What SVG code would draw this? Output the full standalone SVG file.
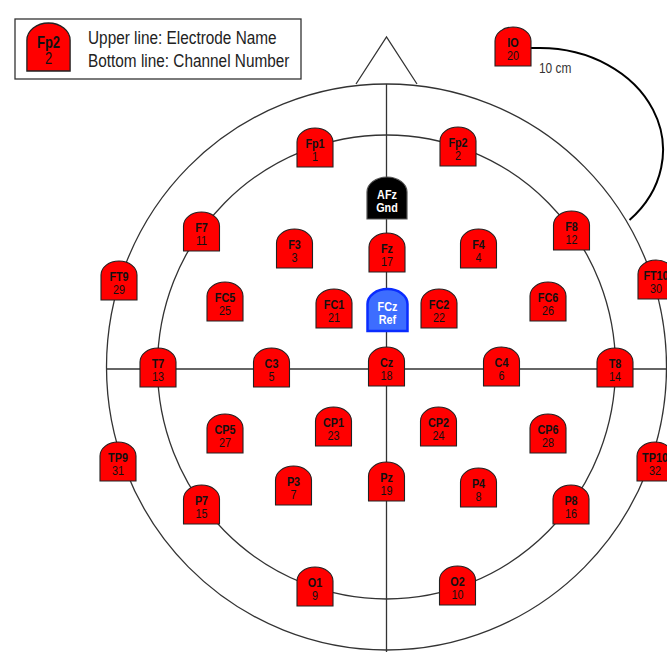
<svg xmlns="http://www.w3.org/2000/svg" xmlns:xlink="http://www.w3.org/1999/xlink" width="667" height="652" viewBox="0 0 667 652">
<defs>
<style>
.ln{fill:none;stroke:#333;stroke-width:1.3}
.io{fill:none;stroke:#000;stroke-width:2}
.el{fill:#ff0000;stroke:#222;stroke-width:1.1}
.gnd{fill:#000;stroke:#555;stroke-width:1.2}
.ref{fill:#3d6dff;stroke:#0a2cff;stroke-width:2.5}
.t1{font-family:"Liberation Sans",Arial,sans-serif;font-size:13.5px;font-weight:bold;fill:#111;text-anchor:middle}
.t2{font-family:"Liberation Sans",Arial,sans-serif;font-size:13.5px;fill:#111;text-anchor:middle}
.w1{font-family:"Liberation Sans",Arial,sans-serif;font-size:13.5px;font-weight:bold;fill:#fff;text-anchor:middle}
.lg{font-family:"Liberation Sans",Arial,sans-serif;font-size:18.5px;fill:#222}
.cm{font-family:"Liberation Sans",Arial,sans-serif;font-size:14px;fill:#333}
</style>
<path id="dome" class="el" d="M-18,39 V14 A18 14 0 0 1 18 14 V39 Z"/>
<path id="bigdome" d="M-20,42 V15 A20 15 0 0 1 20 15 V42 Z"/>
</defs>
<rect width="667" height="652" fill="#fff"/>

<g id="legend">
<rect x="15" y="19" width="286" height="60" fill="#fff" stroke="#333" stroke-width="1.3"/>
<g transform="translate(48.5,23) scale(1.2,1.23)">
<use xlink:href="#dome"/>
<text class="t1" transform="scale(0.8,1)" y="20.5">Fp2</text>
<text class="t2" transform="scale(0.8,1)" y="33">2</text>
</g>
<text class="lg" transform="translate(88,43.5) scale(0.83,1)">Upper line: Electrode Name</text>
<text class="lg" transform="translate(88,67) scale(0.83,1)">Bottom line: Channel Number</text>
</g>

<g id="connectors">
<polyline class="ln" points="356,84 386.5,37 417,84"/>
<ellipse class="ln" cx="386.5" cy="367" rx="280" ry="283"/>
<ellipse class="ln" cx="386.5" cy="367" rx="229" ry="232"/>
<line class="ln" x1="106" y1="369" x2="667" y2="369"/>
<line class="ln" x1="386.5" y1="84" x2="386.5" y2="652"/>
<path class="io" d="M531,48 H540 A123 102 0 0 1 629.5 220"/>
</g>
<text id="dist" class="cm" transform="translate(539,73) scale(0.85,1)">10 cm</text>

<g id="IO" transform="translate(513,27)"><use xlink:href="#dome"/><text class="t1" transform="scale(0.8,1)" y="20.5">IO</text><text class="t2" transform="scale(0.8,1)" y="33.5">20</text></g>
<g id="Fp1" transform="translate(315,128)"><use xlink:href="#dome"/><text class="t1" transform="scale(0.8,1)" y="20.5">Fp1</text><text class="t2" transform="scale(0.8,1)" y="33.5">1</text></g>
<g id="Fp2" transform="translate(458,127)"><use xlink:href="#dome"/><text class="t1" transform="scale(0.8,1)" y="20.5">Fp2</text><text class="t2" transform="scale(0.8,1)" y="33.5">2</text></g>
<g id="AFz" transform="translate(387,177)"><use xlink:href="#bigdome" class="gnd"/><text class="w1" transform="scale(0.8,1)" y="22">AFz</text><text class="w1" transform="scale(0.8,1)" y="35.5">Gnd</text></g>
<g id="F7" transform="translate(201.5,212)"><use xlink:href="#dome"/><text class="t1" transform="scale(0.8,1)" y="20.5">F7</text><text class="t2" transform="scale(0.8,1)" y="33.5">11</text></g>
<g id="F3" transform="translate(294.5,229)"><use xlink:href="#dome"/><text class="t1" transform="scale(0.8,1)" y="20.5">F3</text><text class="t2" transform="scale(0.8,1)" y="33.5">3</text></g>
<g id="Fz" transform="translate(387,233)"><use xlink:href="#dome"/><text class="t1" transform="scale(0.8,1)" y="20.5">Fz</text><text class="t2" transform="scale(0.8,1)" y="33.5">17</text></g>
<g id="F4" transform="translate(478.5,229)"><use xlink:href="#dome"/><text class="t1" transform="scale(0.8,1)" y="20.5">F4</text><text class="t2" transform="scale(0.8,1)" y="33.5">4</text></g>
<g id="F8" transform="translate(571.5,211)"><use xlink:href="#dome"/><text class="t1" transform="scale(0.8,1)" y="20.5">F8</text><text class="t2" transform="scale(0.8,1)" y="33.5">12</text></g>
<g id="FT9" transform="translate(119,261)"><use xlink:href="#dome"/><text class="t1" transform="scale(0.8,1)" y="20.5">FT9</text><text class="t2" transform="scale(0.8,1)" y="33.5">29</text></g>
<g id="FT10" transform="translate(656,260)"><use xlink:href="#dome"/><text class="t1" transform="scale(0.8,1)" y="20.5">FT10</text><text class="t2" transform="scale(0.8,1)" y="33.5">30</text></g>
<g id="FC5" transform="translate(225,282)"><use xlink:href="#dome"/><text class="t1" transform="scale(0.8,1)" y="20.5">FC5</text><text class="t2" transform="scale(0.8,1)" y="33.5">25</text></g>
<g id="FC1" transform="translate(334,289)"><use xlink:href="#dome"/><text class="t1" transform="scale(0.8,1)" y="20.5">FC1</text><text class="t2" transform="scale(0.8,1)" y="33.5">21</text></g>
<g id="FCz" transform="translate(387.5,289)"><use xlink:href="#bigdome" class="ref"/><text class="w1" transform="scale(0.8,1)" y="22">FCz</text><text class="w1" transform="scale(0.8,1)" y="35.5">Ref</text></g>
<g id="FC2" transform="translate(439,289)"><use xlink:href="#dome"/><text class="t1" transform="scale(0.8,1)" y="20.5">FC2</text><text class="t2" transform="scale(0.8,1)" y="33.5">22</text></g>
<g id="FC6" transform="translate(548,282)"><use xlink:href="#dome"/><text class="t1" transform="scale(0.8,1)" y="20.5">FC6</text><text class="t2" transform="scale(0.8,1)" y="33.5">26</text></g>
<g id="T7" transform="translate(158,348)"><use xlink:href="#dome"/><text class="t1" transform="scale(0.8,1)" y="20.5">T7</text><text class="t2" transform="scale(0.8,1)" y="33.5">13</text></g>
<g id="C3" transform="translate(271.5,348)"><use xlink:href="#dome"/><text class="t1" transform="scale(0.8,1)" y="20.5">C3</text><text class="t2" transform="scale(0.8,1)" y="33.5">5</text></g>
<g id="Cz" transform="translate(386.5,347)"><use xlink:href="#dome"/><text class="t1" transform="scale(0.8,1)" y="20.5">Cz</text><text class="t2" transform="scale(0.8,1)" y="33.5">18</text></g>
<g id="C4" transform="translate(501.5,347)"><use xlink:href="#dome"/><text class="t1" transform="scale(0.8,1)" y="20.5">C4</text><text class="t2" transform="scale(0.8,1)" y="33.5">6</text></g>
<g id="T8" transform="translate(615,348)"><use xlink:href="#dome"/><text class="t1" transform="scale(0.8,1)" y="20.5">T8</text><text class="t2" transform="scale(0.8,1)" y="33.5">14</text></g>
<g id="CP5" transform="translate(225,414)"><use xlink:href="#dome"/><text class="t1" transform="scale(0.8,1)" y="20.5">CP5</text><text class="t2" transform="scale(0.8,1)" y="33.5">27</text></g>
<g id="CP1" transform="translate(333.5,407)"><use xlink:href="#dome"/><text class="t1" transform="scale(0.8,1)" y="20.5">CP1</text><text class="t2" transform="scale(0.8,1)" y="33.5">23</text></g>
<g id="CP2" transform="translate(438.5,407)"><use xlink:href="#dome"/><text class="t1" transform="scale(0.8,1)" y="20.5">CP2</text><text class="t2" transform="scale(0.8,1)" y="33.5">24</text></g>
<g id="CP6" transform="translate(548,414)"><use xlink:href="#dome"/><text class="t1" transform="scale(0.8,1)" y="20.5">CP6</text><text class="t2" transform="scale(0.8,1)" y="33.5">28</text></g>
<g id="TP9" transform="translate(118,442)"><use xlink:href="#dome"/><text class="t1" transform="scale(0.8,1)" y="20.5">TP9</text><text class="t2" transform="scale(0.8,1)" y="33.5">31</text></g>
<g id="TP10" transform="translate(655,442)"><use xlink:href="#dome"/><text class="t1" transform="scale(0.8,1)" y="20.5">TP10</text><text class="t2" transform="scale(0.8,1)" y="33.5">32</text></g>
<g id="P3" transform="translate(293.5,466)"><use xlink:href="#dome"/><text class="t1" transform="scale(0.8,1)" y="20.5">P3</text><text class="t2" transform="scale(0.8,1)" y="33.5">7</text></g>
<g id="Pz" transform="translate(386.5,462)"><use xlink:href="#dome"/><text class="t1" transform="scale(0.8,1)" y="20.5">Pz</text><text class="t2" transform="scale(0.8,1)" y="33.5">19</text></g>
<g id="P4" transform="translate(478.5,468)"><use xlink:href="#dome"/><text class="t1" transform="scale(0.8,1)" y="20.5">P4</text><text class="t2" transform="scale(0.8,1)" y="33.5">8</text></g>
<g id="P7" transform="translate(201.5,485)"><use xlink:href="#dome"/><text class="t1" transform="scale(0.8,1)" y="20.5">P7</text><text class="t2" transform="scale(0.8,1)" y="33.5">15</text></g>
<g id="P8" transform="translate(571,485)"><use xlink:href="#dome"/><text class="t1" transform="scale(0.8,1)" y="20.5">P8</text><text class="t2" transform="scale(0.8,1)" y="33.5">16</text></g>
<g id="O1" transform="translate(315,567)"><use xlink:href="#dome"/><text class="t1" transform="scale(0.8,1)" y="20.5">O1</text><text class="t2" transform="scale(0.8,1)" y="33.5">9</text></g>
<g id="O2" transform="translate(457.5,566)"><use xlink:href="#dome"/><text class="t1" transform="scale(0.8,1)" y="20.5">O2</text><text class="t2" transform="scale(0.8,1)" y="33.5">10</text></g>
</svg>
